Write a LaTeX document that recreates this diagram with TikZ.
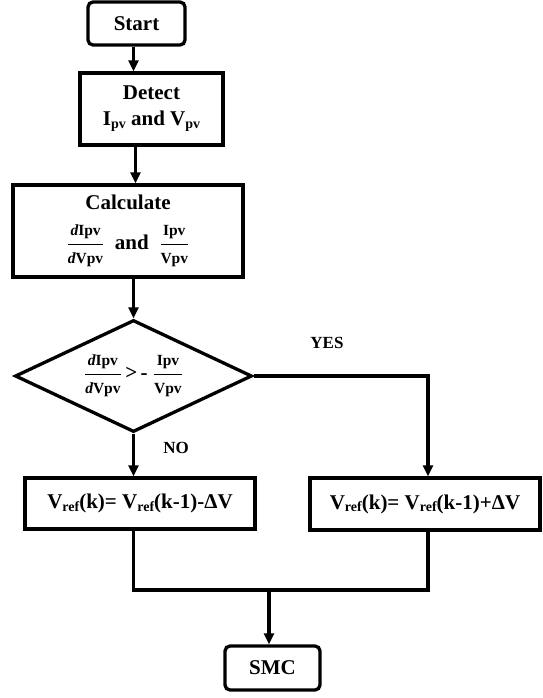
\documentclass[tikz,border=0pt]{standalone}
\usepackage{fontspec}
\usepackage{amsmath}
\setmainfont{Liberation Serif}
\usetikzlibrary{shapes.geometric,arrows.meta,calc}
\newcommand{\sbx}[1]{\raisebox{-0.3ex}{\fontsize{14}{14}\selectfont #1}}
\newcommand{\fr}[2]{$\dfrac{\text{\fontsize{15.5}{16}\selectfont\bfseries #1}}{\text{\fontsize{15.5}{16}\selectfont\bfseries #2}}$}
\begin{document}
\begin{tikzpicture}[x=1pt,y=-1pt,
  every node/.style={font=\fontsize{21}{25}\selectfont\bfseries, line width=3.3pt, inner sep=0pt},
  term/.style={draw, rounded corners=5pt, minimum width=#1, minimum height=43pt},
  proc/.style={draw, minimum width=#1},
  dec/.style={draw, diamond, aspect=2.1, minimum width=237pt, minimum height=112pt},
  lbl/.style={font=\fontsize{17}{20}\selectfont\bfseries},
  arr/.style={line width=3.3pt, -{Triangle[length=11pt,width=10pt]}},
  ln/.style={line width=3.3pt}]
\useasboundingbox (0,0) rectangle (542,698);
\node[term=97pt] (start) at (136.5,23.5) {Start};
\node[proc=143pt, minimum height=72pt, align=center] (detect) at (151.5,109) {Detect\\[1pt]I\sbx{pv} and V\sbx{pv}};
\node[proc=230pt, minimum height=92pt, align=center] (calc) at (128,231) {Calculate\\[14pt]\fr{\itshape d\upshape Ipv}{\itshape d\upshape Vpv}\ \ and\ \ \fr{Ipv}{Vpv}};
\node[dec] (dec) at (133.5,376) {\fr{\itshape d\upshape Ipv}{\itshape d\upshape Vpv}\,\textbf{>}\,\textbf{-}\ \fr{Ipv}{Vpv}};
\node[proc=230pt, minimum height=51pt] (left) at (140,503.5) {V\sbx{ref}(k)= V\sbx{ref}(k-1)-ΔV};
\node[proc=230pt, minimum height=52pt] (right) at (425,504) {V\sbx{ref}(k)= V\sbx{ref}(k-1)+ΔV};
\node[term=95pt, minimum height=44pt] (smc) at (272.5,668) {SMC};
\node[lbl] (yes) at (327,343) {YES};
\node[lbl] (no) at (176,448) {NO};
\coordinate (rx) at (428,0);
\coordinate (join) at (269,590);
\draw[arr] (start.south -| dec.north) -- (detect.north -| dec.north);
\draw[arr] ([xshift=-16pt]detect.south) -- ([xshift=-16pt]detect.south |- calc.north);
\draw[arr] (calc.south -| dec.north) -- (dec.north);
\draw[arr] (dec.south) -- (dec.south |- left.north);
\draw[arr] (dec.east) -| (rx |- right.north);
\draw[ln] (dec.south |- left.south) -- (dec.south |- join) -- (rx |- join) -- (rx |- right.south);
\draw[arr] (join) -- (join |- smc.north);
\end{tikzpicture}
\end{document}
